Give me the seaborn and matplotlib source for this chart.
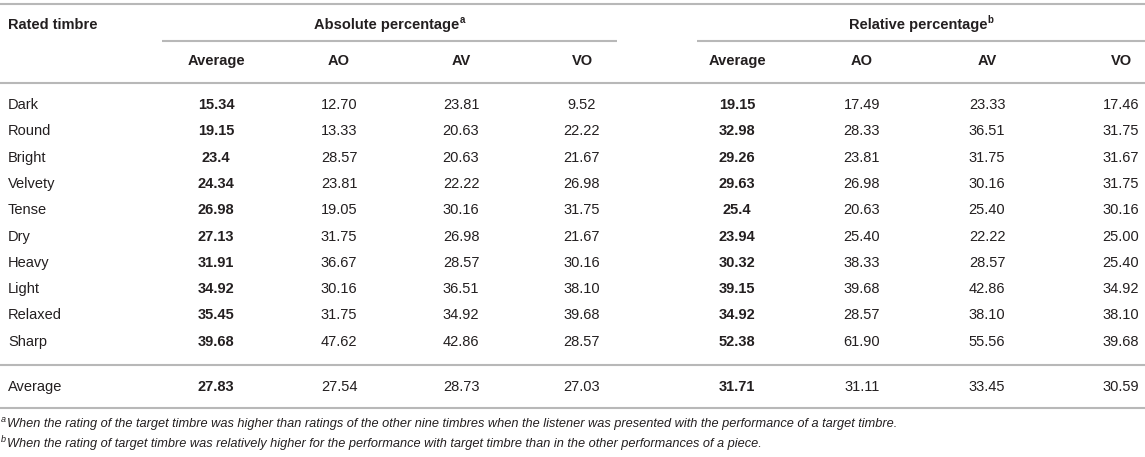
import numpy as np
import pandas as pd
import matplotlib
matplotlib.use("Agg")
import matplotlib.pyplot as plt
from matplotlib.colors import ListedColormap
import seaborn as sns

# ---------------- data ----------------
timbres = ["Dark", "Round", "Bright", "Velvety", "Tense", "Dry", "Heavy", "Light", "Relaxed", "Sharp"]
columns = ["Average", "AO", "AV", "VO"]
abs_avg = [15.34, 19.15, 23.4, 24.34, 26.98, 27.13, 31.91, 34.92, 35.45, 39.68]
abs_ao = [12.70, 13.33, 28.57, 23.81, 19.05, 31.75, 36.67, 30.16, 31.75, 47.62]
abs_av = [23.81, 20.63, 20.63, 22.22, 30.16, 26.98, 28.57, 36.51, 34.92, 42.86]
abs_vo = [9.52, 22.22, 21.67, 26.98, 31.75, 21.67, 30.16, 38.10, 39.68, 28.57]
rel_avg = [19.15, 32.98, 29.26, 29.63, 25.4, 23.94, 30.32, 39.15, 34.92, 52.38]
rel_ao = [17.49, 28.33, 23.81, 26.98, 20.63, 25.40, 38.33, 39.68, 28.57, 61.90]
rel_av = [23.33, 36.51, 31.75, 30.16, 25.40, 22.22, 28.57, 42.86, 38.10, 55.56]
rel_vo = [17.46, 31.75, 31.67, 31.75, 30.16, 25.00, 25.40, 34.92, 38.10, 39.68]
avg_row_label = "Average"
avg_row = [27.83, 27.54, 28.73, 27.03, 31.71, 31.11, 33.45, 30.59]
group_titles = ["Absolute percentage", "Relative percentage"]
group_marks = ["a", "b"]
corner_title = "Rated timbre"
footnotes = [
    "When the rating of the target timbre was higher than ratings of the other nine timbres when the listener was presented with the performance of a target timbre.",
    "When the rating of target timbre was relatively higher for the performance with target timbre than in the other performances of a piece.",
]

# ---------------- style / layout ----------------
sns.set_theme(style="white")
plt.rcParams["font.family"] = ["Liberation Sans", "DejaVu Sans"]
TXT = "#231f20"
LINE = "#b8b8b8"
FS = 10.5

W, H = 1145, 457
col_centers = [216, 339, 461, 582, 737, 862, 987, 1121]
col_half = 58
row_y0, row_step = 105, 26.3
avg_y = 387

fig = plt.figure(figsize=(W / 100, H / 100), dpi=100)
base = fig.add_axes([0, 0, 1, 1])
base.set_xlim(0, W)
base.set_ylim(H, 0)
base.axis("off")


def px_axes(x0, x1, y0, y1):
    return fig.add_axes([x0 / W, 1 - y1 / H, (x1 - x0) / W, (y1 - y0) / H])


white = ListedColormap(["white"])
body_cols = [abs_avg, abs_ao, abs_av, abs_vo, rel_avg, rel_ao, rel_av, rel_vo]
col_names = [f"{g} {c}" for g in group_titles for c in columns]

# ---------------- body: one seaborn heatmap column per table column ----------------
for i, (vals, name) in enumerate(zip(body_cols, col_names)):
    is_avg = (i % 4 == 0)
    kws = {"color": TXT, "fontsize": FS, "fontweight": "bold" if is_avg else "normal"}
    cx = col_centers[i]
    # ten timbre rows
    df = pd.DataFrame({name: vals}, index=timbres)
    ann = np.array([[f"{v:g}" if is_avg else f"{v:.2f}"] for v in vals])
    ax = px_axes(cx - col_half, cx + col_half, row_y0 - row_step / 2, row_y0 + 9.5 * row_step)
    sns.heatmap(df, ax=ax, cmap=white, cbar=False, annot=ann, fmt="", annot_kws=kws,
                xticklabels=False, yticklabels=False)
    ax.set_axis_off()
    # average row
    df2 = pd.DataFrame({name: [avg_row[i]]}, index=[avg_row_label])
    ann2 = np.array([[f"{avg_row[i]:.2f}"]])
    ax2 = px_axes(cx - col_half, cx + col_half, avg_y - row_step / 2, avg_y + row_step / 2)
    sns.heatmap(df2, ax=ax2, cmap=white, cbar=False, annot=ann2, fmt="", annot_kws=kws,
                xticklabels=False, yticklabels=False)
    ax2.set_axis_off()

# ---------------- row labels ----------------
for i, name in enumerate(timbres):
    base.text(8, row_y0 + i * row_step, name, fontsize=FS, color=TXT, va="center", ha="left")
base.text(8, avg_y, avg_row_label, fontsize=FS, color=TXT, va="center", ha="left")

# ---------------- headers ----------------
base.text(8, 25, corner_title, fontsize=FS, color=TXT, va="center", ha="left", fontweight="bold")
for i in range(8):
    base.text(col_centers[i], 61, columns[i % 4], fontsize=FS, color=TXT,
              va="center", ha="center", fontweight="bold")

fig.canvas.draw()
renderer = fig.canvas.get_renderer()
group_spans = [(162, 617), (697, W)]
for (x0, x1), title, mark in zip(group_spans, group_titles, group_marks):
    cx = (x0 + x1) / 2
    t = base.text(cx, 25, title, fontsize=FS, color=TXT, va="center", ha="center", fontweight="bold")
    s = base.text(0, 20, mark, fontsize=7, color=TXT, va="center", ha="left", fontweight="bold")
    tw = t.get_window_extent(renderer).width
    sw = s.get_window_extent(renderer).width
    t.set_x(cx - sw / 2)
    s.set_x(cx - sw / 2 + tw / 2 + 0.5)

# ---------------- rules ----------------
lw = 1.5
base.plot([0, W], [4, 4], color=LINE, lw=lw, solid_capstyle="butt")
for x0, x1 in group_spans:
    base.plot([x0, x1], [41, 41], color=LINE, lw=lw, solid_capstyle="butt")
base.plot([0, W], [82.5, 82.5], color=LINE, lw=lw, solid_capstyle="butt")
base.plot([0, W], [364.5, 364.5], color=LINE, lw=lw, solid_capstyle="butt")
base.plot([0, W], [407.5, 407.5], color=LINE, lw=lw, solid_capstyle="butt")

# ---------------- footnotes ----------------
for y, mark, note in zip([424, 444], group_marks, footnotes):
    base.text(1, y - 4, mark, fontsize=6.5, color=TXT, va="center", ha="left", style="italic")
    base.text(7, y, note, fontsize=9.2, color=TXT, va="center", ha="left", style="italic")

fig.savefig("out.png", dpi=100)
